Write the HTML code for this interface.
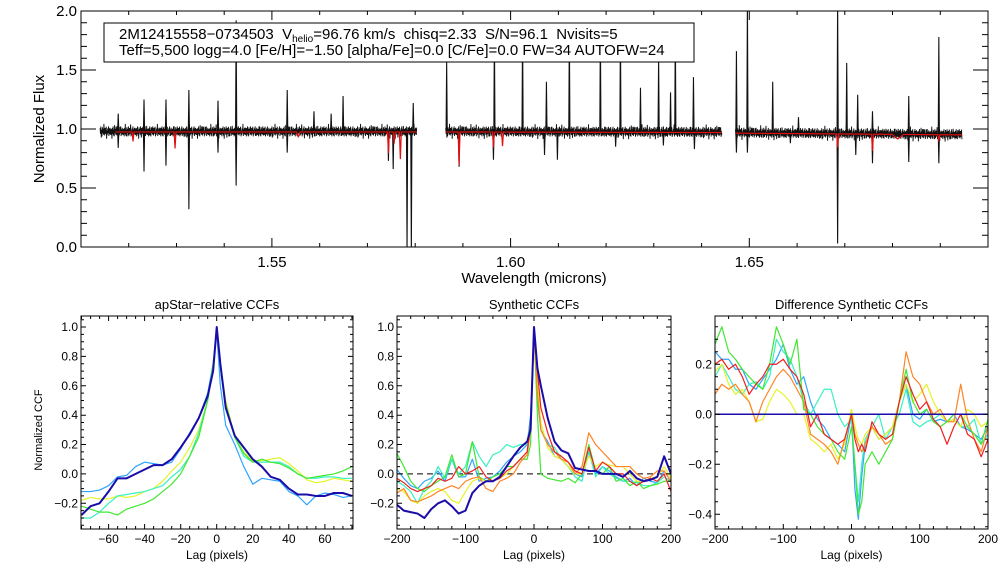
<!DOCTYPE html>
<html><head><meta charset="utf-8"><style>
html,body{margin:0;padding:0;background:#fff;}
svg{display:block;font-family:"Liberation Sans",sans-serif;}
</style></head><body>
<svg id="chart" width="1008" height="576" viewBox="0 0 1008 576" xmlns="http://www.w3.org/2000/svg">
<rect width="1008" height="576" fill="#fff"/>
</svg>
<script>
// ---------- spectrum data ----------
const segStart = [1.514, 1.5864, 1.6471];
const segEnd   = [1.5804, 1.6443, 1.6946];
const segLevelStart = [0.98, 0.98, 0.97];
const segLevelEnd   = [0.98, 0.975, 0.955];
const jitter = [0.02,-0.015,0.03,-0.025,0.01,-0.03,0.025,-0.01,0.015,-0.02,0.03,-0.005,-0.025,0.02,-0.015,0.01,0.028,-0.03,0.005,-0.02,0.018,-0.01,0.03,-0.028,0.012,-0.018,0.022,-0.006,-0.022,0.015,0.008,-0.03];
const emisWl = [1.5178,1.5232,1.5278,1.5326,1.5387,1.5425,1.5532,1.5588,1.5624,1.5649,1.5796,
  1.5866,1.5966,1.6025,1.6075,1.6123,1.6188,1.6230,1.6272,1.6310,1.6335,1.6345,1.6383,
  1.6473,1.6496,1.6549,1.6603,1.6685,1.6704,1.6727,1.6758,1.6834,1.6897];
const emisVal = [1.13,1.25,1.25,1.33,1.24,1.92,1.33,1.15,1.13,1.28,1.22,
  1.57,1.85,1.85,1.4,1.85,1.85,1.85,1.35,1.6,1.31,1.85,1.44,
  1.66,2.1,1.4,1.1,2.1,1.56,1.29,1.15,1.28,1.78];
const absWl = [1.5178,1.5232,1.5278,1.5326,1.5387,1.5425,1.5532,1.5744,1.5754,1.5783,1.5792,
  1.5892,1.5964,1.6071,1.6098,1.6220,1.6320,1.6385,
  1.6473,1.6496,1.6586,1.6685,1.6723,1.6758,1.6834,1.6897];
const absVal = [0.84,0.64,0.69,0.32,0.8,0.52,0.8,0.73,0.66,-0.05,-0.05,
  0.68,0.74,0.78,0.74,0.85,0.86,0.83,
  0.8,0.8,0.88,0.03,0.78,0.71,0.72,0.71];
const modelWl = [1.5209,1.5297,1.5555,1.5744,1.5756,1.5769,1.5892,1.5964,1.5983,1.6685,1.6758,1.6811,1.6897];
const modelVal = [0.9,0.84,0.94,0.8,0.88,0.75,0.7,0.85,0.86,0.85,0.82,0.92,0.9];
const modelWidth = [0.0001,0.0001,0.0002,0.0001,0.0001,0.0001,0.0001,0.0001,0.0001,0.0001,0.0001,0.0006,0.0001];
const topYTicks = ["0.0","0.5","1.0","1.5","2.0"];
const topXTicks = ["1.55","1.60","1.65"];

// ---------- CCF data ----------
const lag1 = [-75,-70,-65,-60,-55,-50,-45,-40,-35,-30,-25,-20,-15,-10,-5,-2,0,2,5,10,15,20,25,30,35,40,45,50,55,60,65,70,75];
const p1DarkBlue = [-0.28,-0.22,-0.2,-0.12,-0.03,-0.03,0.0,0.03,0.06,0.06,0.1,0.18,0.27,0.38,0.53,0.7,1.0,0.75,0.45,0.26,0.18,0.1,0.05,-0.02,-0.04,-0.1,-0.14,-0.14,-0.15,-0.15,-0.13,-0.13,-0.15];
const p1LightBlue = [-0.12,-0.12,-0.11,-0.08,-0.02,-0.01,0.05,0.08,0.07,0.06,0.08,0.17,0.28,0.38,0.55,0.75,0.97,0.6,0.33,0.2,0.05,-0.07,-0.03,-0.04,-0.05,-0.12,-0.15,-0.21,-0.15,-0.13,-0.14,-0.16,-0.15];
const p1Yellow = [-0.18,-0.16,-0.17,-0.17,-0.15,-0.16,-0.15,-0.12,-0.1,-0.05,0.02,0.08,0.18,0.3,0.5,0.72,1.0,0.75,0.5,0.25,0.15,0.09,0.09,0.1,0.11,0.07,0.02,-0.04,-0.06,-0.05,-0.03,-0.04,-0.05];
const p1Cyan = [-0.3,-0.3,-0.26,-0.2,-0.15,-0.14,-0.13,-0.12,-0.1,-0.08,-0.02,0.03,0.12,0.28,0.5,0.72,0.98,0.72,0.45,0.25,0.12,0.08,0.08,0.08,0.08,0.05,0.0,-0.03,-0.03,-0.02,-0.02,-0.03,-0.03];
const p1Green = [-0.22,-0.24,-0.26,-0.26,-0.28,-0.24,-0.22,-0.2,-0.17,-0.12,-0.07,0.0,0.12,0.25,0.5,0.75,1.0,0.75,0.48,0.25,0.14,0.08,0.1,0.08,0.07,0.04,0.0,-0.03,-0.02,-0.01,0.0,0.02,0.05];
const p1XTicks = ["-60","-40","-20","0","20","40","60"];
const p1YTicks = ["-0.2","0.0","0.2","0.4","0.6","0.8","1.0"];

const lag2 = [-200,-190,-180,-170,-160,-150,-140,-130,-120,-110,-100,-90,-80,-70,-60,-50,-40,-30,-20,-10,-5,0,5,10,20,30,40,50,60,70,80,90,100,110,120,130,140,150,160,170,180,190,200];
const p2DarkBlue = [-0.21,-0.25,-0.26,-0.27,-0.3,-0.24,-0.2,-0.18,-0.22,-0.27,-0.25,-0.13,-0.08,-0.05,-0.05,-0.02,0.05,0.12,0.18,0.22,0.3,1.0,0.72,0.6,0.38,0.22,0.16,0.14,0.04,0.03,0.02,0.02,0.0,0.0,0.0,-0.02,0.02,-0.03,-0.05,-0.04,-0.02,0.12,0.0];
const p2LightBlue = [0.03,-0.03,-0.08,-0.1,-0.05,-0.03,0.02,-0.05,0.1,-0.02,-0.02,0.1,-0.05,-0.03,-0.02,0.02,0.08,0.12,0.15,0.2,0.4,0.95,0.5,0.3,0.22,0.12,0.1,0.05,0.0,-0.02,0.15,0.0,0.05,0.02,-0.02,-0.05,-0.03,-0.08,-0.03,-0.05,-0.06,0.02,-0.05];
const p2Cyan = [-0.05,-0.08,-0.12,-0.2,-0.1,-0.05,0.05,-0.03,0.1,0.0,0.05,0.22,0.12,0.05,0.13,0.15,0.2,0.18,0.2,0.2,0.35,0.97,0.6,0.3,0.2,0.18,0.1,0.05,-0.02,-0.05,0.15,-0.02,0.05,0.0,-0.03,-0.05,-0.05,-0.06,-0.08,-0.08,-0.06,-0.02,-0.05];
const p2Green = [0.14,0.05,-0.05,-0.1,-0.12,-0.08,-0.05,-0.02,0.13,-0.02,0.0,0.22,-0.02,-0.05,-0.02,0.0,0.05,0.05,0.1,0.1,0.2,1.0,0.4,0.0,-0.03,-0.04,-0.05,-0.03,-0.06,0.0,0.2,0.02,0.0,0.05,-0.05,-0.03,-0.08,-0.05,-0.1,-0.08,-0.07,-0.05,-0.05];
const p2Yellow = [-0.1,-0.12,-0.18,-0.2,-0.15,-0.12,-0.1,-0.12,-0.18,-0.2,-0.12,-0.05,-0.03,-0.05,-0.05,-0.03,0.0,0.05,0.1,0.15,0.3,1.0,0.62,0.35,0.18,0.12,0.1,0.05,0.0,0.0,0.12,0.05,0.08,0.06,0.05,0.05,0.0,-0.05,-0.05,-0.03,-0.02,0.05,-0.03];
const p2Orange = [-0.13,-0.1,-0.18,-0.19,-0.17,-0.15,-0.12,-0.1,-0.08,-0.1,-0.05,-0.03,-0.02,-0.1,-0.12,-0.05,-0.03,0.0,0.08,0.13,0.3,0.98,0.55,0.3,0.2,0.15,0.1,0.08,0.0,0.05,0.28,0.2,0.15,0.1,0.05,0.05,0.05,0.0,-0.03,-0.02,0.02,0.02,-0.05];
const p2Red = [-0.03,-0.06,-0.1,-0.12,-0.1,-0.08,-0.03,-0.05,-0.03,0.05,0.0,0.02,0.05,-0.02,-0.05,-0.03,0.02,0.05,0.1,0.15,0.35,1.0,0.7,0.45,0.28,0.15,0.12,0.08,0.02,0.0,0.18,0.02,0.08,0.05,0.0,0.0,-0.05,-0.08,-0.05,-0.03,-0.05,0.0,-0.12];
const p23XTicks = ["-200","-100","0","100","200"];

const lag3 = [-200,-190,-180,-170,-160,-150,-140,-130,-120,-110,-100,-90,-80,-70,-60,-50,-40,-30,-20,-10,0,5,10,15,20,30,40,50,60,70,80,90,100,110,120,130,140,150,160,170,180,190,200];
const p3LightBlue = [0.25,0.22,0.22,0.18,0.18,0.12,0.1,0.14,0.18,0.22,0.28,0.18,0.12,0.15,0.05,-0.02,-0.05,-0.1,-0.12,-0.15,0.0,-0.3,-0.42,-0.25,-0.12,-0.05,-0.1,-0.08,-0.05,0.05,0.12,0.0,-0.02,0.02,-0.03,-0.02,-0.03,0.0,-0.05,-0.06,-0.08,-0.1,-0.05];
const p3Cyan = [0.15,0.2,0.15,0.1,0.08,0.12,0.13,0.1,0.15,0.3,0.25,0.22,0.15,0.05,0.0,0.05,0.1,0.1,0.0,-0.05,-0.02,-0.2,-0.35,-0.2,-0.1,-0.05,0.0,-0.1,-0.05,0.0,0.1,-0.03,-0.05,-0.03,-0.02,0.0,-0.03,-0.02,-0.05,-0.05,-0.02,-0.12,-0.08];
const p3Green = [0.28,0.35,0.25,0.22,0.18,0.15,0.12,0.1,0.2,0.35,0.28,0.2,0.3,0.02,0.0,-0.05,-0.08,-0.1,-0.15,-0.18,-0.05,-0.2,-0.4,-0.35,-0.2,-0.15,-0.2,-0.15,-0.1,0.05,0.18,0.05,0.0,0.02,-0.03,-0.05,-0.03,0.0,0.0,-0.05,-0.08,-0.12,-0.02];
const p3Yellow = [0.17,0.2,0.12,0.08,0.1,0.05,-0.03,-0.02,0.05,0.1,0.08,0.05,0.0,0.0,-0.1,-0.12,-0.15,-0.12,-0.18,-0.12,0.02,-0.05,-0.1,-0.12,-0.08,-0.05,-0.1,-0.08,-0.05,0.05,0.12,0.05,0.08,0.12,0.05,0.0,-0.03,-0.02,-0.05,0.02,0.0,-0.05,-0.03];
const p3Orange = [0.08,0.12,0.1,0.12,0.08,0.05,-0.03,0.05,0.1,0.15,0.18,0.15,0.1,0.05,-0.08,-0.1,-0.12,-0.15,-0.2,-0.1,0.0,-0.08,-0.12,-0.15,-0.12,-0.05,-0.08,-0.12,-0.1,0.05,0.25,0.15,0.12,0.05,0.0,0.02,-0.03,-0.03,0.12,-0.02,-0.1,-0.15,-0.05];
const p3Red = [0.2,0.22,0.18,0.2,0.15,0.08,0.12,0.15,0.2,0.2,0.22,0.18,0.15,0.08,-0.05,0.0,-0.08,-0.1,-0.12,-0.1,0.0,-0.1,-0.15,-0.12,-0.15,-0.03,-0.08,-0.1,-0.08,0.05,0.15,0.08,0.02,0.05,-0.02,-0.05,-0.12,-0.05,0.0,-0.08,-0.1,-0.17,-0.1];
const p3DarkBlue = [0,0,0,0,0,0,0,0,0,0,0,0,0,0,0,0,0,0,0,0,0,0,0,0,0,0,0,0,0,0,0,0,0,0,0,0,0,0,0,0,0,0,0];
const p3YTicks = ["-0.4","-0.2","0.0","0.2"];

// ---------- helpers ----------
const NS = "http://www.w3.org/2000/svg";
const svg = document.getElementById("chart");
function mk(tag, attrs, parent) {
  const e = document.createElementNS(NS, tag);
  for (const k in attrs) e.setAttribute(k, attrs[k]);
  (parent || svg).appendChild(e);
  return e;
}
function txt(s, x, y, size, anchor, parent, rot) {
  const t = mk("text", {x: x, y: y, "font-size": size, "text-anchor": anchor || "middle", fill: "#000"}, parent);
  if (rot) t.setAttribute("transform", "rotate(-90 " + x + " " + y + ")");
  t.textContent = s;
  return t;
}
function scale(d0, d1, r0, r1) { return v => r0 + (v - d0) / (d1 - d0) * (r1 - r0); }

function frame(g, X0, X1, Y0, Y1, xs, ys, xMin, xMax, xMaj, xMin2, yMin, yMax, yMaj, yMin2, xl, yl) {
  mk("rect", {x: X0, y: Y0, width: X1 - X0, height: Y1 - Y0, fill: "none", stroke: "#000", "stroke-width": 1}, g);
  let d = "";
  const eps = 1e-9;
  for (let v = Math.ceil((xMin - eps) / xMin2) * xMin2; v <= xMax + eps; v += xMin2) {
    const isMaj = Math.abs(v / xMaj - Math.round(v / xMaj)) < 1e-6;
    const L = isMaj ? xl[0] : xl[1];
    const x = xs(v).toFixed(1);
    d += "M" + x + " " + Y1 + "v" + (-L) + "M" + x + " " + Y0 + "v" + L;
  }
  for (let v = Math.ceil((yMin - eps) / yMin2) * yMin2; v <= yMax + eps; v += yMin2) {
    const isMaj = Math.abs(v / yMaj - Math.round(v / yMaj)) < 1e-6;
    const L = isMaj ? yl[0] : yl[1];
    const y = ys(v).toFixed(1);
    d += "M" + X0 + " " + y + "h" + L + "M" + X1 + " " + y + "h" + (-L);
  }
  mk("path", {d: d, stroke: "#000", "stroke-width": 1, fill: "none"}, g);
}

// ---------- top spectrum panel ----------
const T = {x0: 81, x1: 988, y0: 11, y1: 247};
const tx = scale(1.51, 1.70, T.x0, T.x1);
const ty = scale(0, 2.0, T.y1, T.y0);
const topG = mk("g", {});


mk("clipPath", {id: "clipTop"}, topG);
mk("rect", {x: T.x0, y: T.y0, width: T.x1 - T.x0, height: T.y1 - T.y0}, topG.lastChild);
const plotTop = mk("g", {"clip-path": "url(#clipTop)"}, topG);

function levelAt(w) {
  for (let s = 0; s < segStart.length; s++) {
    if (w >= segStart[s] && w <= segEnd[s]) {
      return segLevelStart[s] + (w - segStart[s]) / (segEnd[s] - segStart[s]) * (segLevelEnd[s] - segLevelStart[s]);
    }
  }
  return null;
}
for (let s = 0; s < segStart.length; s++) {
  let pts = [], i = 0;
  for (let w = segStart[s]; w <= segEnd[s]; w += 0.00008, i++) {
    const v = levelAt(w) + 1.4 * jitter[i % jitter.length] * (i % 7 === 3 ? 1.5 : 1);
    pts.push(tx(w).toFixed(2) + "," + ty(v).toFixed(2));
  }
  const pl = mk("polyline", {points: pts.join(" "), fill: "none", stroke: "#111", "stroke-width": 0.9}, plotTop);
  
  
}
emisWl.forEach((w, i) => {
  const base = levelAt(w) || 0.98;
  const p = mk("path", {d: "M" + tx(w - 0.00012).toFixed(2) + " " + ty(base) + "L" + tx(w).toFixed(2) + " " + ty(emisVal[i]).toFixed(2) + "L" + tx(w + 0.00012).toFixed(2) + " " + ty(base), fill: "none", stroke: "#111", "stroke-width": 1.1}, plotTop);
  
  
});
absWl.forEach((w, i) => {
  const base = levelAt(w) || 0.98;
  const p = mk("path", {d: "M" + tx(w - 0.00012).toFixed(2) + " " + ty(base) + "L" + tx(w).toFixed(2) + " " + ty(absVal[i]).toFixed(2) + "L" + tx(w + 0.00012).toFixed(2) + " " + ty(base), fill: "none", stroke: "#111", "stroke-width": 1.1}, plotTop);
  
  
});
const modelStart = [1.5172, 1.5864, 1.6471];
for (let s = 0; s < segStart.length; s++) {
  let pts = [];
  for (let w = modelStart[s]; w <= segEnd[s]; w += 0.00005) {
    let v = levelAt(w) - 0.005;
    modelWl.forEach((m, k) => {
      const dd = Math.abs(w - m);
      if (dd < modelWidth[k] * 2) v -= (levelAt(m) - modelVal[k]) * Math.max(0, 1 - dd / (modelWidth[k] * 2));
    });
    pts.push(tx(w).toFixed(2) + "," + ty(v).toFixed(2));
  }
  const pl = mk("polyline", {points: pts.join(" "), fill: "none", stroke: "#e01010", "stroke-width": 1.2}, plotTop);
  
  
}
frame(topG, T.x0, T.x1, T.y0, T.y1, tx, ty, 1.51, 1.70, 0.05, 0.01, 0, 2.0, 0.5, 0.1, [9, 4], [15, 6]);
topYTicks.forEach(s => { const t = txt(s, 77, ty(parseFloat(s)) + 5, 15, "end", topG);   });
topXTicks.forEach(s => { const t = txt(s, tx(parseFloat(s)), 267, 15, "middle", topG);   });
const xt = txt("Wavelength (microns)", 534, 283, 15, "middle", topG);


const yt = txt("Normalized Flux", 44, 129, 15, "middle", topG, true);


const box = mk("g", {}, topG);


mk("rect", {x: 104, y: 23, width: 590, height: 39, fill: "#fff", stroke: "#000", "stroke-width": 1}, box);
const l1 = mk("text", {x: 119, y: 39, "font-size": 15, fill: "#000"}, box);
l1.innerHTML = '2M12415558\u22120734503&#160; V<tspan font-size="10" dy="3">helio</tspan><tspan dy="-3">=96.76 km/s&#160; chisq=2.33&#160; S/N=96.1&#160; Nvisits=5</tspan>';
const l2 = txt("Teff=5,500 logg=4.0 [Fe/H]=\u22121.50 [alpha/Fe]=0.0 [C/Fe]=0.0 FW=34 AUTOFW=24", 119, 55, 15, "start", box);

// ---------- CCF panels ----------
const colors = {darkblue: "#1a0ca8", lightblue: "#30a4ff", cyan: "#38f0c0", green: "#40e830", yellow: "#e4f428", orange: "#ff8424", red: "#f02020"};
function ccfPanel(name, X0, X1, xMin, xMax, yMin, yMax, xMaj, xMin2, yMaj, yMin2, title, xTicks, yTicks, lags, series, extra) {
  const Y0 = 316, Y1 = 529;
  const xs = scale(xMin, xMax, X0, X1), ys = scale(yMin, yMax, Y1, Y0);
  const g = mk("g", {});
  
  
  const cid = "clip-" + name;
  mk("clipPath", {id: cid}, g);
  mk("rect", {x: X0, y: Y0, width: X1 - X0, height: Y1 - Y0}, g.lastChild);
  const pg = mk("g", {"clip-path": "url(#" + cid + ")"}, g);
  if (extra) extra(pg, xs, ys);
  series.forEach(sr => {
    const pts = lags.map((l, i) => xs(l).toFixed(2) + "," + ys(sr.v[i]).toFixed(2)).join(" ");
    const pl = mk("polyline", {points: pts, fill: "none", stroke: colors[sr.c], "stroke-width": sr.w || 1.2, "stroke-linejoin": "round"}, pg);
    
    
  });
  frame(g, X0, X1, Y0, Y1, xs, ys, xMin, xMax, xMaj, xMin2, yMin, yMax, yMaj, yMin2, [5, 3], [5, 3]);
  xTicks.forEach(s => { const t = txt(s.replace("-", "\u2212"), xs(parseFloat(s)), 543, 12, "middle", g);   });
  yTicks.forEach(s => { const t = txt(s.replace("-", "\u2212"), X0 - 3, ys(parseFloat(s)) + 4, 12, "end", g);   });
  const tt = txt(title, (X0 + X1) / 2, 309, 13, "middle", g);
  
  
  const xa = txt("Lag (pixels)", (X0 + X1) / 2, 559, 12, "middle", g);
  
  
  return g;
}
ccfPanel("apstar-ccf-panel", 81, 353, -75.3, 75.6, -0.375, 1.075, 20, 5, 0.2, 0.05, "apStar\u2212relative CCFs", p1XTicks, p1YTicks, lag1,
  [{v: p1LightBlue, c: "lightblue"}, {v: p1Yellow, c: "yellow"}, {v: p1Cyan, c: "cyan"}, {v: p1Green, c: "green"}, {v: p1DarkBlue, c: "darkblue", w: 2}]);
const yc = txt("Normalized CCF", 42, 430, 11, "middle", null, true);


ccfPanel("synthetic-ccf-panel", 397, 671, -200, 200, -0.375, 1.075, 100, 20, 0.2, 0.05, "Synthetic CCFs", p23XTicks, p1YTicks, lag2,
  [{v: p2LightBlue, c: "lightblue"}, {v: p2Cyan, c: "cyan"}, {v: p2Green, c: "green"}, {v: p2Yellow, c: "yellow"}, {v: p2Orange, c: "orange"}, {v: p2Red, c: "red"}, {v: p2DarkBlue, c: "darkblue", w: 2}],
  (pg, xs, ys) => { const z = mk("line", {x1: xs(-200), x2: xs(200), y1: ys(0), y2: ys(0), stroke: "#000", "stroke-dasharray": "6,4", "stroke-width": 1}, pg);   });
ccfPanel("difference-ccf-panel", 715, 988, -200, 200, -0.459, 0.393, 100, 20, 0.2, 0.05, "Difference Synthetic CCFs", p23XTicks, p3YTicks, lag3,
  [{v: p3LightBlue, c: "lightblue"}, {v: p3Cyan, c: "cyan"}, {v: p3Yellow, c: "yellow"}, {v: p3Orange, c: "orange"}, {v: p3Green, c: "green"}, {v: p3Red, c: "red"}, {v: p3DarkBlue, c: "darkblue", w: 1.5}]);
</script>
</body></html>
